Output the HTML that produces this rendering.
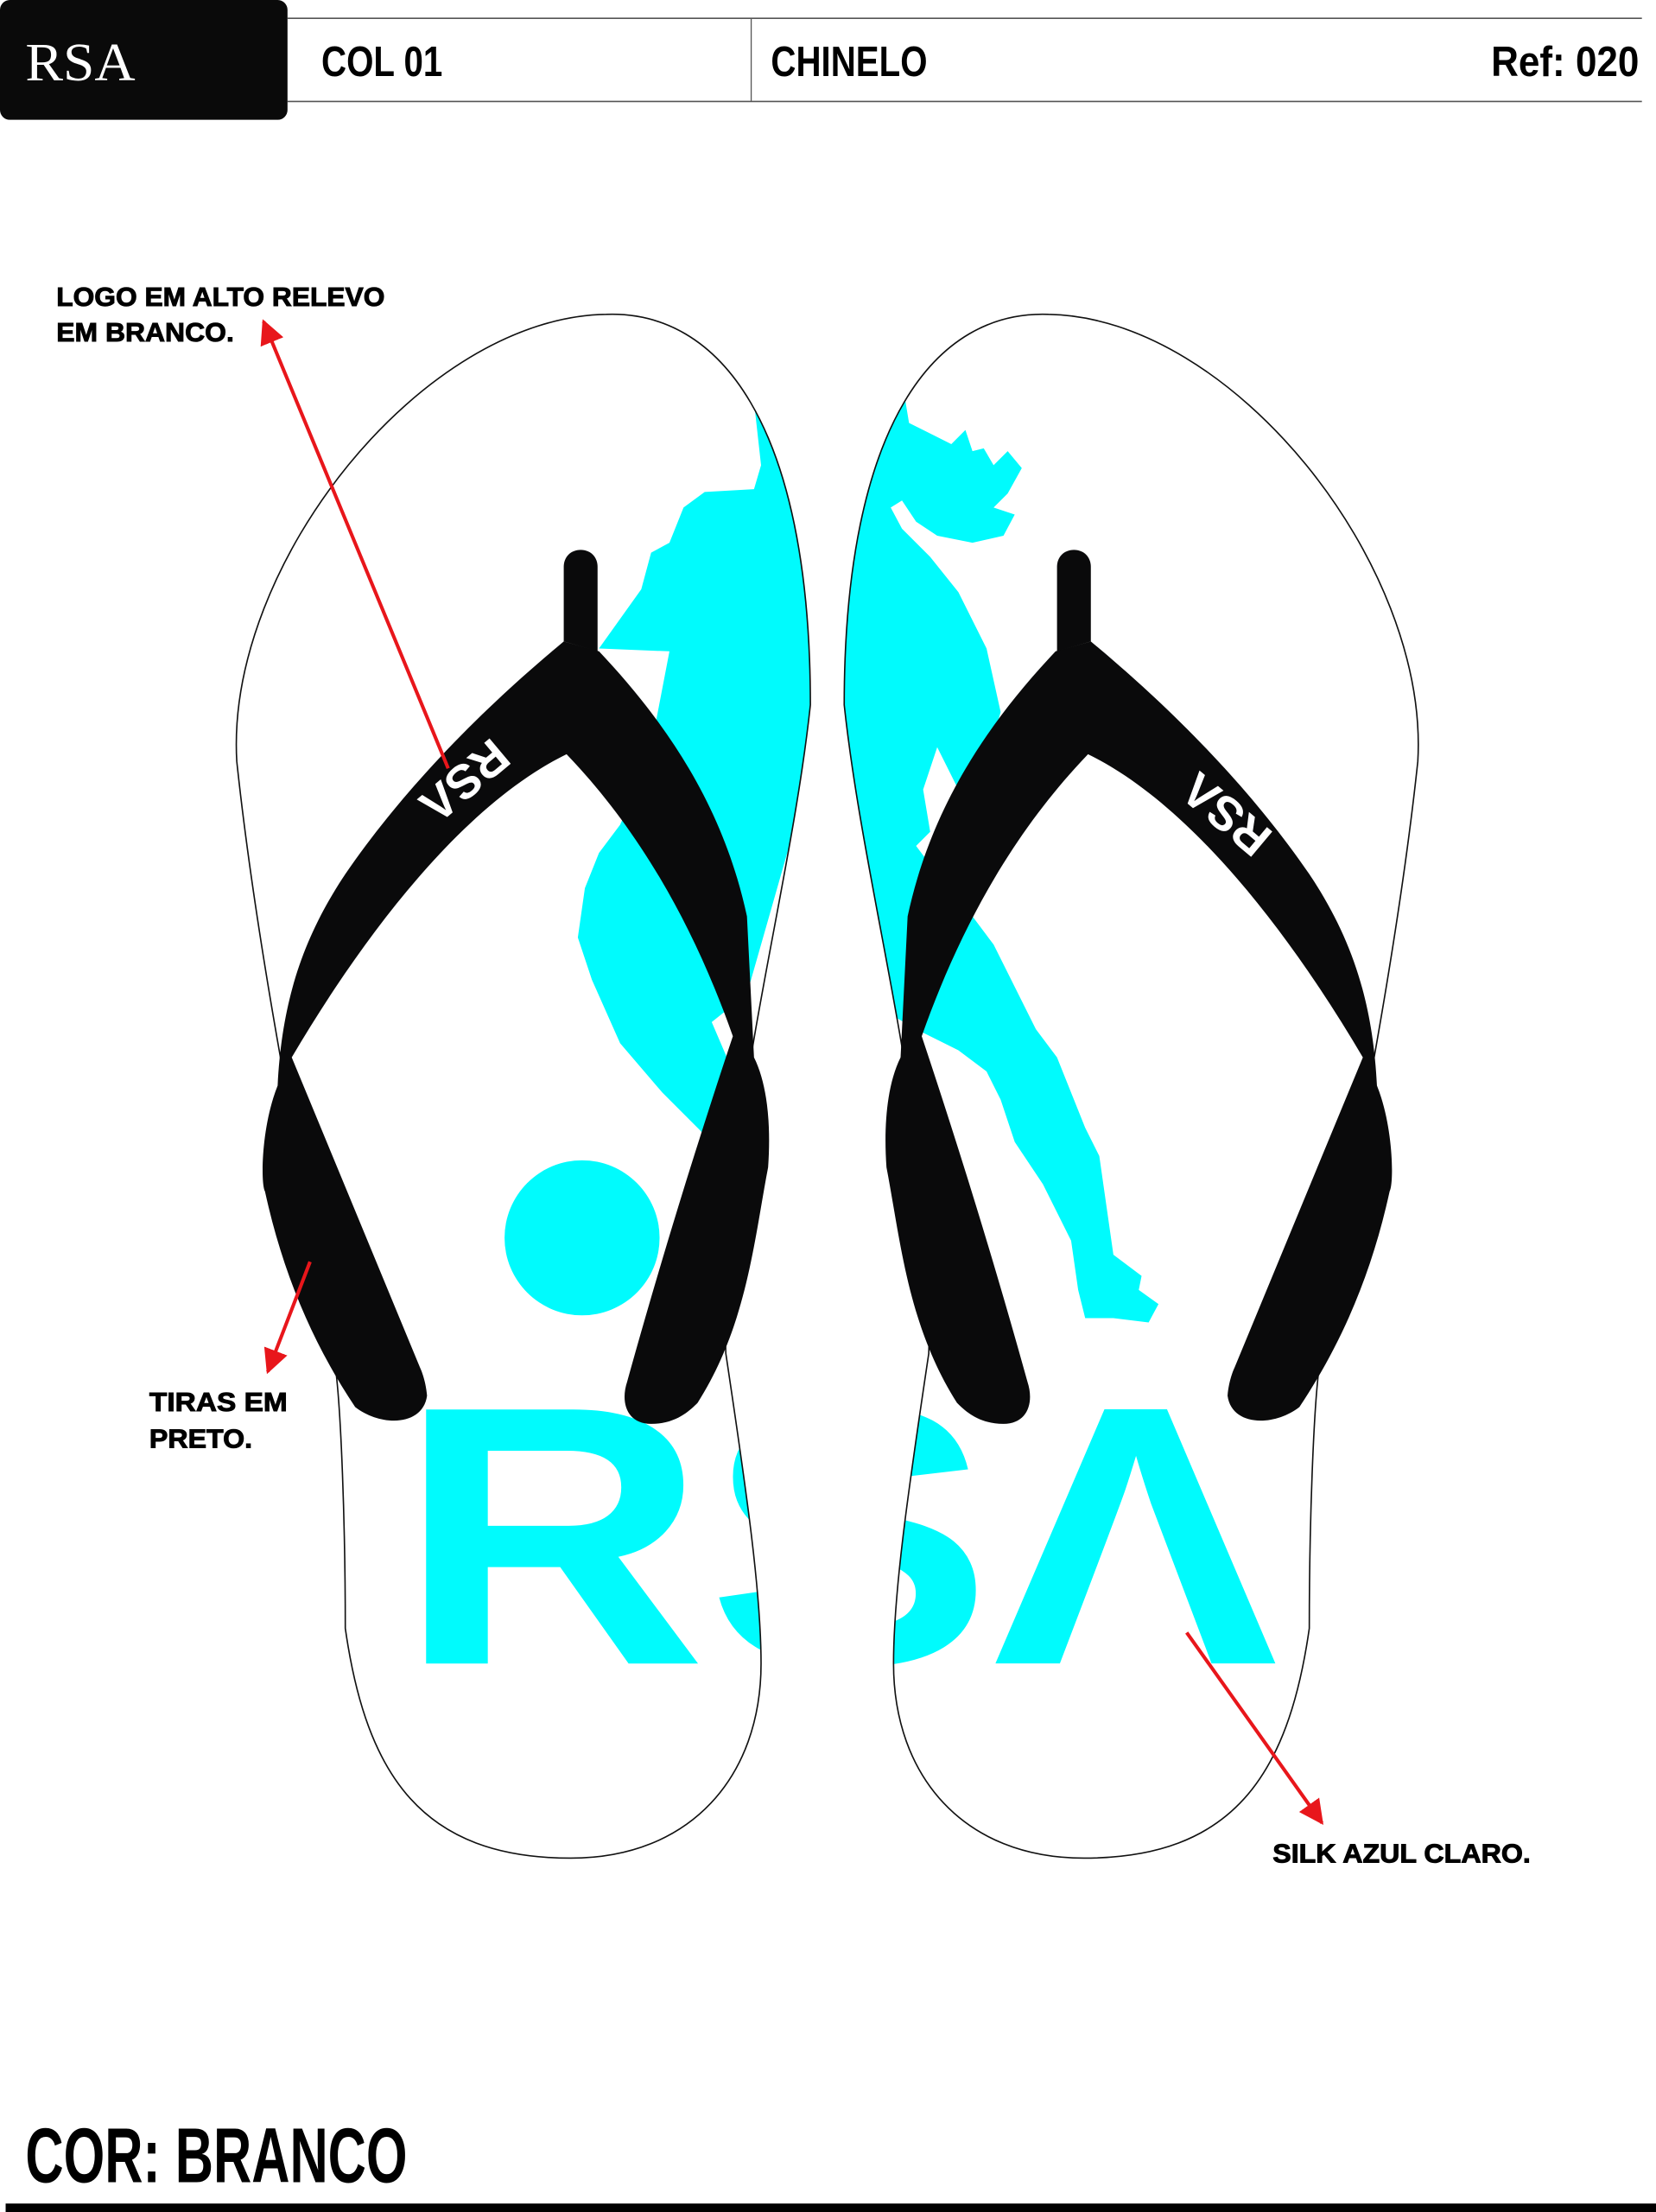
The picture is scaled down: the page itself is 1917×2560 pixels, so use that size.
<!DOCTYPE html>
<html><head><meta charset="utf-8"><style>
html,body{margin:0;padding:0;background:#fff;}
svg{display:block;}
</style></head><body>
<svg width="1917" height="2560" viewBox="0 0 1175 1569" preserveAspectRatio="none" xmlns="http://www.w3.org/2000/svg">
<defs>
<path id="sole" d="M430,223 C510,220 575,300 575,500 C560,640 510,800 515,960 C530,1060 540,1130 540,1180 C540,1260 490,1318 405,1318 C300,1318 260,1260 245,1155 C245,1080 242,1000 238,970 C225,880 185,700 168,540 C160,400 300,225 430,223 Z"/>
<clipPath id="cl"><use href="#sole"/></clipPath>
<clipPath id="cr"><use href="#sole" transform="translate(1174,0) scale(-1,1)"/></clipPath>
<marker id="ah" viewBox="0 0 10 10" refX="9" refY="5" markerWidth="7" markerHeight="7" orient="auto-start-reverse"><path d="M0,0 L10,5 L0,10 Z" fill="#e8161b"/></marker>
<g id="strap">
<path d="M400,455 C370,480 300,540 245,620 C215,665 200,710 197,770 C185,800 185,840 188,845 C200,900 220,950 252,998 C270,1012 300,1012 303,990 C302,978 298,970 298,970 L207,750 C260,660 330,570 402,535 C450,585 490,650 520,735 C495,810 470,890 445,980 C440,995 445,1010 462,1010 C480,1010 490,1000 495,995 C530,940 535,880 545,828 C547,800 545,770 535,750 L530,650 C515,580 480,520 425,462 Z" fill="#0a0a0b"/>
<path d="M400,455 L400,402 C400,395 405,390 412,390 C419,390 424,395 424,402 L424,462 Z" fill="#0a0a0b"/>
</g>
</defs>
<!-- header -->
<rect x="0" y="0" width="204" height="85" rx="7" fill="#0a0a0a"/>
<text x="18" y="57" font-family="Liberation Serif, serif" font-size="38" fill="#fff" textLength="78" lengthAdjust="spacingAndGlyphs">RSA</text>
<line x1="204" y1="13" x2="1165" y2="13" stroke="#555" stroke-width="1"/>
<line x1="204" y1="72" x2="1165" y2="72" stroke="#555" stroke-width="1"/>
<line x1="533" y1="13" x2="533" y2="72" stroke="#555" stroke-width="0.8"/>
<g font-family="Liberation Sans Narrow, Liberation Sans, sans-serif" font-weight="bold" font-size="30" fill="#000">
<text x="228" y="54" textLength="86" lengthAdjust="spacingAndGlyphs">COL 01</text>
<text x="547" y="54" textLength="111" lengthAdjust="spacingAndGlyphs">CHINELO</text>
<text x="1058" y="54" textLength="105" lengthAdjust="spacingAndGlyphs">Ref: 020</text>
</g>
<!-- soles fill -->
<use href="#sole" fill="#fff"/>
<use href="#sole" fill="#fff" transform="translate(1174,0) scale(-1,1)"/>
<!-- cyan prints -->
<g fill="#00fbfd">
<g clip-path="url(#cl)">
<path d="M535,285 L540,330 L535,347 L500,349 L485,360 L475,385 L462,392 L455,418 L425,460 L475,462 L460,540 L440,585 L425,605 L415,630 L410,665 L420,695 L440,740 L470,775 L500,805 L520,760 L505,725 L530,705 L560,600 L600,450 L600,285 Z"/>
<circle cx="413" cy="878" r="55"/>
</g>
<g clip-path="url(#cr)">
<path d="M640,270 L645,300 L655,305 L675,315 L685,305 L690,320 L698,318 L705,330 L715,320 L725,332 L715,350 L705,360 L720,365 L712,380 L690,385 L665,380 L650,370 L640,355 L632,360 L640,375 L660,395 L680,420 L700,460 L710,505 L700,540 L680,560 L665,530 L655,560 L660,590 L650,600 L665,620 L690,650 L705,670 L720,700 L735,730 L750,750 L770,800 L780,820 L790,890 L810,905 L808,915 L822,925 L815,938 L790,935 L770,935 L765,915 L760,880 L740,840 L720,810 L710,780 L700,760 L680,745 L650,730 L598,700 L598,270 Z"/>
</g>
<g font-family="Liberation Sans, sans-serif" font-weight="bold" font-size="262">
<text x="282" y="1180" clip-path="url(#cl)" textLength="625" lengthAdjust="spacingAndGlyphs">RSΛ</text>
<text x="282" y="1180" clip-path="url(#cr)" textLength="625" lengthAdjust="spacingAndGlyphs">RSΛ</text>
</g>
</g>
<!-- sole outlines -->
<use href="#sole" fill="none" stroke="#111" stroke-width="1"/>
<use href="#sole" fill="none" stroke="#111" stroke-width="1" transform="translate(1174,0) scale(-1,1)"/>
<!-- straps -->
<use href="#strap"/>
<use href="#strap" transform="translate(1174,0) scale(-1,1)"/>
<g font-family="Liberation Sans, sans-serif" font-weight="bold" font-size="34" fill="#fff" text-anchor="middle">
<text transform="translate(330,554) rotate(140)" dy="12">RSΛ</text>
<text transform="translate(870,578) rotate(-140)" dy="12">RSΛ</text>
</g>
<!-- arrows -->
<g stroke="#e8161b" stroke-width="2.5" fill="none">
<line x1="318" y1="545" x2="187" y2="228" marker-end="url(#ah)"/>
<line x1="220" y1="895" x2="190" y2="973" marker-end="url(#ah)"/>
<line x1="842" y1="1158" x2="938" y2="1293" marker-end="url(#ah)"/>
</g>
<!-- labels -->
<g font-family="Liberation Sans, sans-serif" font-weight="900" font-size="19" fill="#000" stroke="#000" stroke-width="0.6">
<text x="40" y="217" textLength="233" lengthAdjust="spacingAndGlyphs">LOGO EM ALTO RELEVO</text>
<text x="40" y="242" textLength="126" lengthAdjust="spacingAndGlyphs">EM BRANCO.</text>
<text x="106" y="1001" textLength="98" lengthAdjust="spacingAndGlyphs">TIRAS EM</text>
<text x="106" y="1027" textLength="73" lengthAdjust="spacingAndGlyphs">PRETO.</text>
<text x="903" y="1321" textLength="183" lengthAdjust="spacingAndGlyphs">SILK AZUL CLARO.</text>
</g>
<text x="18" y="1548" font-family="Liberation Sans Narrow, Liberation Sans, sans-serif" font-weight="bold" font-size="55" textLength="271" lengthAdjust="spacingAndGlyphs">COR: BRANCO</text>
<rect x="4" y="1563" width="1171" height="6" fill="#000"/>
</svg>
</body></html>
